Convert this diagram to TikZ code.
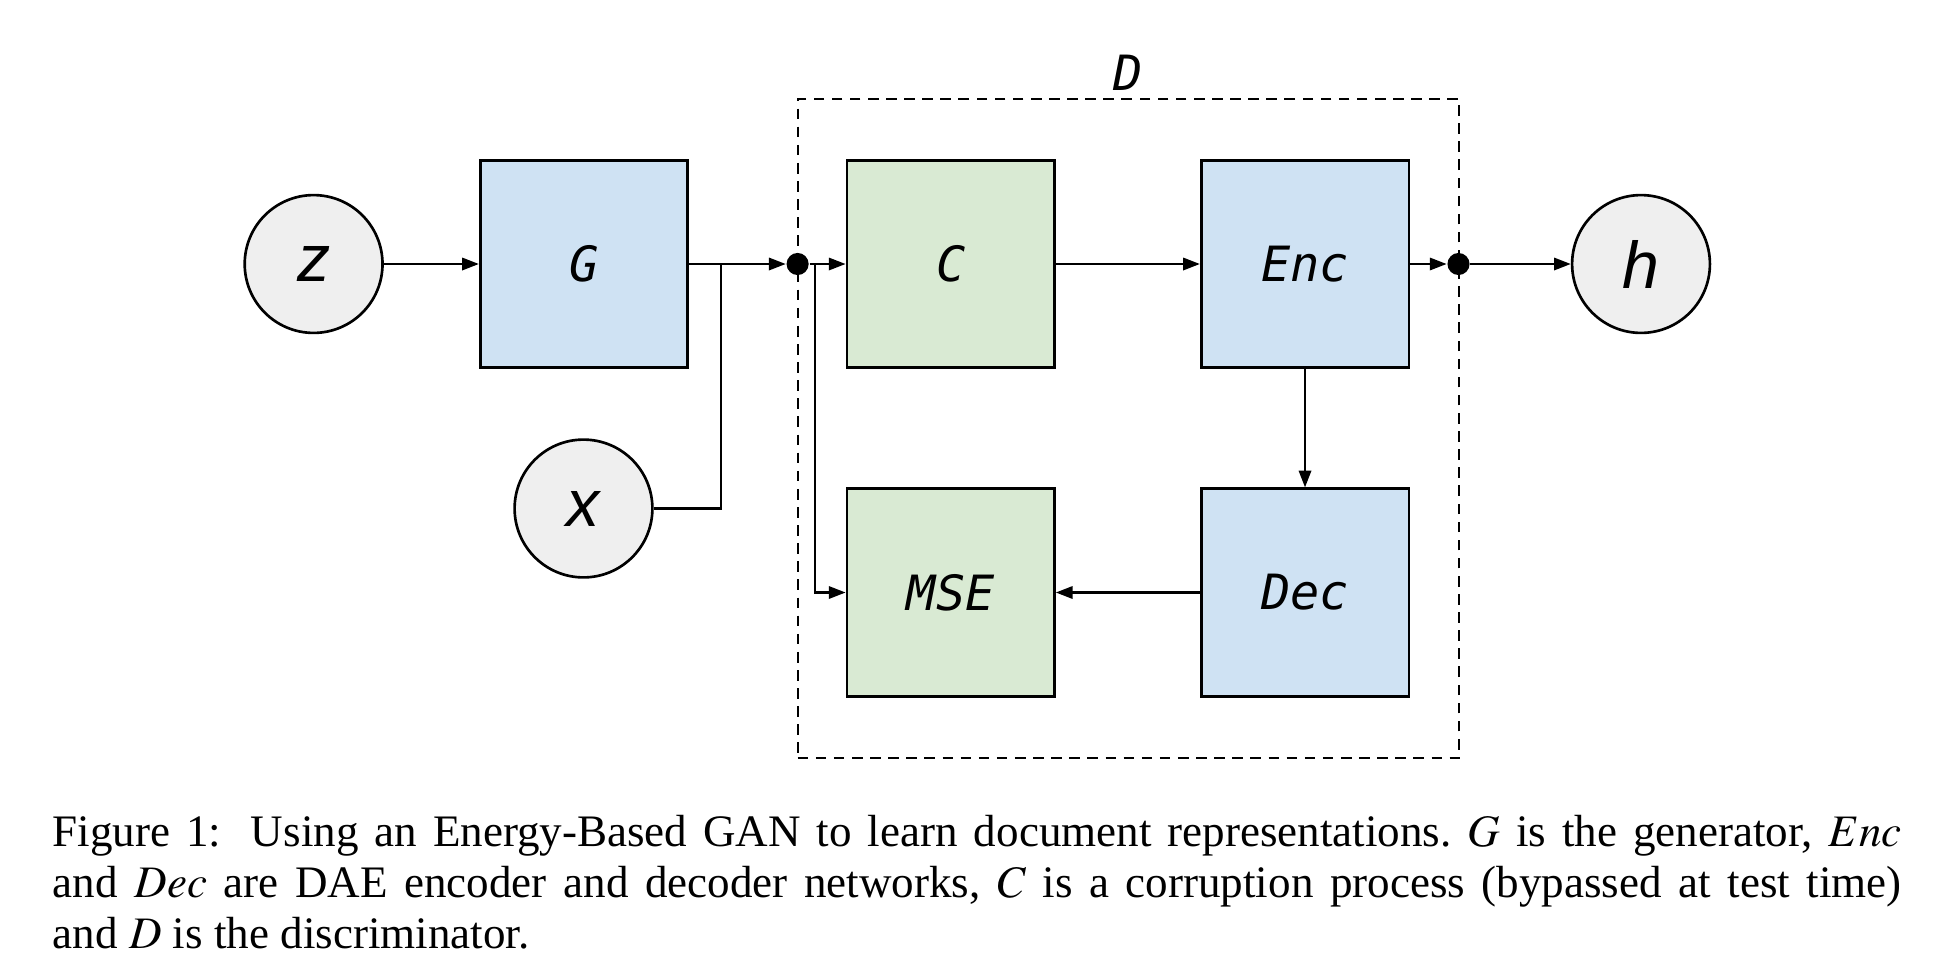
\documentclass[tikz,border=0pt]{standalone}
\usepackage{mathptmx}
\usepackage{fontspec}
\setmainfont{Liberation Serif}
\newfontfamily\boxfont{DejaVu Sans Mono}
\newfontfamily\varfont{Liberation Sans}
\usetikzlibrary{arrows.meta,positioning}

\definecolor{netblue}{HTML}{CFE2F3}
\definecolor{lossgreen}{HTML}{D9EAD3}
\definecolor{vargray}{HTML}{EFEFEF}

\begin{document}
\begin{tikzpicture}[x=0.2264pt,y=-0.2264pt,
	block/.style={draw,line width=0.6pt,minimum size=47pt,inner sep=0pt,font=\boxfont\itshape\fontsize{11}{13}\selectfont},
	net/.style={block,fill=netblue},
	loss/.style={block,fill=lossgreen},
	var/.style={circle,draw,line width=0.6pt,fill=vargray,minimum size=31.2pt,inner sep=0pt,font=\varfont\itshape\fontsize{15}{18}\selectfont},
	junction/.style={circle,fill=black,minimum size=5pt,inner sep=0pt},
	arr/.style={line width=0.5pt,-{Triangle[length=3.8pt,width=2.8pt]}},
	wire/.style={line width=0.5pt}]
	\useasboundingbox (0,0) rectangle (1936,966);

	% discriminator frame
	\node[draw,dashed,dash pattern=on 2.4pt off 1.7pt,line width=0.45pt,minimum width=149.8pt,minimum height=149.2pt,inner sep=0pt] (D) at (1128.5,428.4) {};
	\node[above=1.5pt of D.north,inner sep=0pt,font=\boxfont\itshape\fontsize{11}{13}\selectfont] (Dlabel) {D};

	% inputs, blocks and output
	\node[var] (z) at (313.6,264) {z};
	\node[net] (G) at (584,264) {G};
	\node[var] (x) at (583.5,508.5) {x};
	\node[loss] (C) at (950.7,264) {C};
	\node[net] (Enc) at (1305,264) {Enc};
	\node[loss] (MSE) at (950.7,592.5) {MSE};
	\node[net] (Dec) at (1305,592.5) {Dec};
	\node[var] (h) at (1641,264) {h};

	% ports on the frame
	\node[junction] (inD) at (797.6,264) {};
	\node[junction] (outD) at (1458.5,264) {};
	\coordinate (xjoin) at (720.7,264);
	\coordinate (bypass) at (815,264);

	\draw[arr] (z) -- (G);
	\draw[arr] (G) -- (inD);
	\draw[wire] (x) -| (xjoin);
	\draw[arr] (inD) -- (C);
	\draw[arr] (bypass) |- (MSE);
	\draw[arr] (C) -- (Enc);
	\draw[arr] (Enc) -- (outD);
	\draw[arr] (outD) -- (h);
	\draw[arr] (Enc) -- (Dec);
	\draw[arr] (Dec) -- (MSE);

	% caption
	\node[anchor=north west,inner sep=0pt,text width=418.6pt,align=justify,font=\fontsize{10.2}{11.6}\selectfont\frenchspacing] (caption) at (52,814) {Figure 1:\hspace{0.3em} Using an Energy-Based GAN to learn document representations. $G$ is the generator, $Enc$\linebreak and $Dec$ are DAE encoder and decoder networks, $C$ is a corruption process (bypassed at test time)\linebreak and $D$ is the discriminator.};
\end{tikzpicture}
\end{document}
